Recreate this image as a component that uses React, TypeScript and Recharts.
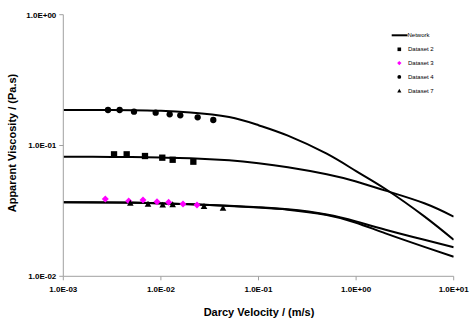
import { ComposedChart, Line, Scatter, XAxis, YAxis, Label } from "recharts";

// shear-thinning network model curves
const networkX = [0.001, 0.002, 0.005, 0.01, 0.02, 0.05, 0.1, 0.2, 0.5, 1, 2, 5, 10];
const network4 = [0.187, 0.187, 0.186, 0.184, 0.179, 0.165, 0.143, 0.119, 0.0865, 0.0637, 0.0465, 0.0287, 0.019];
const network2 = [0.0821, 0.082, 0.0815, 0.0808, 0.08, 0.077, 0.0731, 0.0681, 0.0602, 0.053, 0.0452, 0.0362, 0.0286];
const network3 = [0.0368, 0.0368, 0.0366, 0.0362, 0.0356, 0.0346, 0.0337, 0.0325, 0.0297, 0.0263, 0.0227, 0.019, 0.0167];
const network7 = [0.0368, 0.0367, 0.0365, 0.0361, 0.0355, 0.0345, 0.0335, 0.0323, 0.0294, 0.0257, 0.0213, 0.0168, 0.0141];

const ds2X = [0.00331, 0.00446, 0.00687, 0.01033, 0.0132, 0.0215];
const ds2Y = [0.0856, 0.0856, 0.0831, 0.0807, 0.0778, 0.0752];
const ds3X = [0.002694, 0.00468, 0.00656, 0.00912, 0.012, 0.01684, 0.02344];
const ds3Y = [0.039, 0.0376, 0.0383, 0.0372, 0.0368, 0.0357, 0.0351];
const ds4X = [0.00287, 0.00378, 0.0053, 0.00884, 0.0123, 0.0158, 0.0238, 0.0344];
const ds4Y = [0.1868, 0.1868, 0.1813, 0.1781, 0.1732, 0.1702, 0.1643, 0.1566];
const ds7X = [0.00486, 0.00738, 0.01043, 0.0132, 0.02764, 0.04328];
const ds7Y = [0.0365, 0.0359, 0.0353, 0.0355, 0.0345, 0.0334];

const xTicks = [0.001, 0.01, 0.1, 1, 10];
const xTickLabels = ["1.0E-03", "1.0E-02", "1.0E-01", "1.0E+00", "1.0E+01"];
const yTicks = [0.01, 0.1, 1];
const yTickLabels = ["1.0E-02", "1.0E-01", "1.0E+00"];

const pts = (xs: number[], ys: number[]) => xs.map((x, i) => ({ x, y: ys[i] }));

const FONT = '"Liberation Sans", Arial, sans-serif';
const AXIS = "#a0a0a0";

const square = (s: number, fill: string) => (p: any) =>
  <rect x={p.cx - s / 2} y={p.cy - s / 2} width={s} height={s} fill={fill} />;
const diamond = (s: number, fill: string) => (p: any) =>
  <polygon points={`${p.cx},${p.cy - s / 2} ${p.cx + s / 2},${p.cy} ${p.cx},${p.cy + s / 2} ${p.cx - s / 2},${p.cy}`} fill={fill} />;
const circle = (s: number, fill: string) => (p: any) =>
  <circle cx={p.cx} cy={p.cy} r={s / 2} fill={fill} />;
const triangle = (s: number, fill: string) => (p: any) =>
  <polygon points={`${p.cx},${p.cy - s * 0.45} ${p.cx + s / 2},${p.cy + s * 0.45} ${p.cx - s / 2},${p.cy + s * 0.45}`} fill={fill} />;

const legendItems = [
  { name: "Dataset 2", icon: square(3.6, "#000") },
  { name: "Dataset 3", icon: diamond(4.4, "#ff00ff") },
  { name: "Dataset 4", icon: circle(3.8, "#000") },
  { name: "Dataset 7", icon: triangle(4.2, "#000") },
];

function ChartLegend() {
  return (
    <svg style={{ position: "absolute", left: 385, top: 28 }} width={60} height={70}>
      <line x1={6.7} x2={22.5} y1={7.3} y2={7.3} stroke="#000" strokeWidth={2} />
      <text x={22.5} y={9.4} fontSize={6} fontFamily={FONT} fill="#000">Network</text>
      {legendItems.map((it, i) => (
        <g key={it.name}>
          {it.icon({ cx: 14.3, cy: 21.3 + i * 13.8 })}
          <text x={23} y={23.4 + i * 13.8} fontSize={6} fontFamily={FONT} fill="#000">{it.name}</text>
        </g>
      ))}
    </svg>
  );
}

const tickStyle = { fill: "#000", fontSize: 8, fontWeight: 700, fontFamily: FONT };

export default function App() {
  const lines = [network4, network2, network3, network7];
  return (
    <div style={{ position: "absolute", left: 0, top: 0, width: 475, height: 325, background: "#fff" }}>
      <ComposedChart width={475} height={325} margin={{ top: 14.7, right: 21.3, bottom: 0, left: 0 }}>
        <XAxis
          type="number"
          dataKey="x"
          scale="log"
          domain={[0.001, 10]}
          ticks={xTicks}
          allowDataOverflow
          tickFormatter={(v) => xTickLabels[xTicks.indexOf(v)] ?? ""}
          tick={tickStyle}
          tickSize={4}
          tickMargin={6}
          stroke={AXIS}
          height={48.7}
        >
          <Label
            content={() => (
              <text x={259} y={316} textAnchor="middle" fontSize={11} fontWeight={700} fontFamily={FONT} fill="#000">
                Darcy Velocity / (m/s)
              </text>
            )}
          />
        </XAxis>
        <YAxis
          type="number"
          dataKey="y"
          scale="log"
          domain={[0.01, 1]}
          ticks={yTicks}
          allowDataOverflow
          tickFormatter={(v) => yTickLabels[yTicks.indexOf(v)] ?? ""}
          tick={tickStyle}
          tickSize={4}
          tickMargin={3}
          stroke={AXIS}
          width={63.3}
        >
          <Label
            content={() => (
              <text
                x={16}
                y={143}
                transform="rotate(-90 16 143)"
                textAnchor="middle"
                fontSize={11}
                fontWeight={700}
                fontFamily={FONT}
                fill="#000"
              >
                Apparent Viscosity / (Pa.s)
              </text>
            )}
          />
        </YAxis>
        {lines.map((ys, i) => (
          <Line
            key={i}
            data={pts(networkX, ys)}
            dataKey="y"
            type="natural"
            stroke="#000"
            strokeWidth={2}
            dot={false}
            activeDot={false}
            isAnimationActive={false}
          />
        ))}
        <Scatter data={pts(ds2X, ds2Y)} dataKey="y" shape={square(6.3, "#000")} isAnimationActive={false} />
        <Scatter data={pts(ds3X, ds3Y)} dataKey="y" shape={diamond(7, "#ff00ff")} isAnimationActive={false} />
        <Scatter data={pts(ds4X, ds4Y)} dataKey="y" shape={circle(6.3, "#000")} isAnimationActive={false} />
        <Scatter data={pts(ds7X, ds7Y)} dataKey="y" shape={triangle(6.6, "#000")} isAnimationActive={false} />
      </ComposedChart>
      <ChartLegend />
    </div>
  );
}
